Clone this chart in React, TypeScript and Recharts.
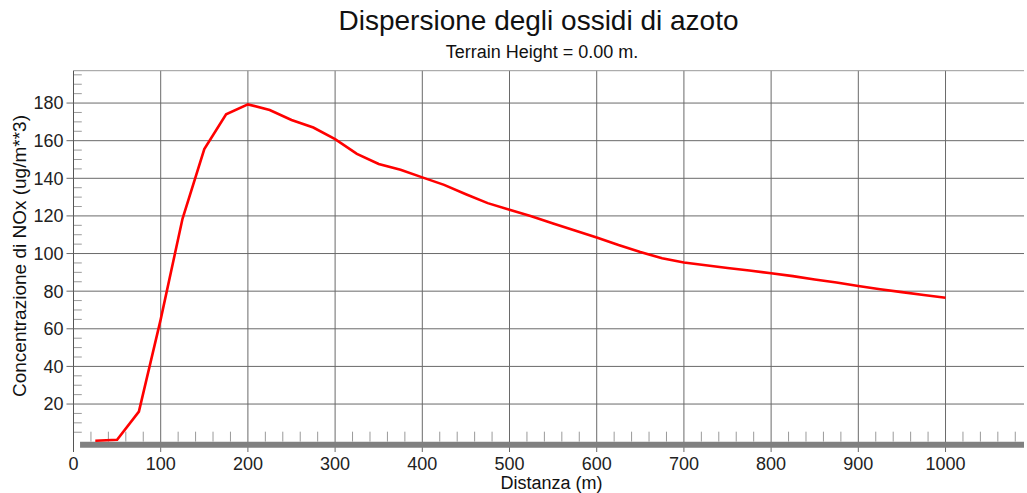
import React from 'react';
import {
  LineChart,
  Line,
  XAxis,
  YAxis,
  CartesianGrid,
  ReferenceLine,
  ReferenceArea,
} from 'recharts';

const distances = [
  25, 50, 75, 100, 125, 150, 175, 200, 225, 250, 275, 300, 325, 350, 375, 400, 425, 450, 475, 500,
  525, 550, 575, 600, 625, 650, 675, 700, 725, 750, 775, 800, 825, 850, 875, 900, 925, 950, 975, 1000,
];
const noxValues = [
  0.5, 1, 16, 65, 118.5, 155.5, 174, 179.3, 176.3, 171, 167, 160.8, 153, 147.6, 144.5, 140.5, 136.5, 131.5, 126.8, 123.3,
  119.8, 116, 112.2, 108.5, 104.5, 100.8, 97.5, 95.2, 93.8, 92.3, 91, 89.5, 88, 86.2, 84.6, 82.7, 81, 79.5, 78, 76.5,
];
const xTicks = [0, 100, 200, 300, 400, 500, 600, 700, 800, 900, 1000];
const yTicks = [20, 40, 60, 80, 100, 120, 140, 160, 180];

const X_MAX = 1090;
const Y_MIN = -5.5;
const Y_MAX = 197.2;

// minor tick marks (every 20 m on x, every 5 on y)
const xMinor: number[] = [];
for (let v = 20; v < X_MAX; v += 20) if (v % 100 !== 0) xMinor.push(v);
const yMinor: number[] = [];
for (let v = 5; v < Y_MAX; v += 5) if (v % 20 !== 0) yMinor.push(v);

const data = distances.map((d, i) => ({ d, nox: noxValues[i] }));

const font = '"Liberation Sans", Arial, sans-serif';

export default function App() {
  return (
    <div style={{ position: 'absolute', left: 0, top: 0, width: 1027, height: 493, background: '#fff', fontFamily: font }}>
      <div style={{ position: 'absolute', left: 0, width: 1077, top: 5, textAlign: 'center', fontSize: 28, color: '#111' }}>
        Dispersione degli ossidi di azoto
      </div>
      <div style={{ position: 'absolute', left: 0, width: 1084, top: 42, textAlign: 'center', fontSize: 18, color: '#111' }}>
        Terrain Height = 0.00 m.
      </div>
      <div style={{ position: 'absolute', left: 0, width: 1103, top: 474, lineHeight: '19px', textAlign: 'center', fontSize: 18, color: '#111' }}>
        Distanza (m)
      </div>
      <div
        style={{
          position: 'absolute',
          left: 20,
          top: 256,
          transform: 'translate(-50%, -50%) rotate(-90deg)',
          whiteSpace: 'nowrap',
          fontSize: 19,
          color: '#111',
        }}
      >
        Concentrazione di NOx (ug/m**3)
      </div>
      <LineChart
        width={1027}
        height={493}
        data={data}
        margin={{ top: 70.7, right: 3, left: 0, bottom: 0 }}
        style={{ position: 'absolute', left: 0, top: 0 }}
      >
        <CartesianGrid stroke="#6a6a6a" horizontalValues={yTicks} verticalValues={xTicks.slice(1)} />
        <XAxis
          type="number"
          dataKey="d"
          domain={[0, X_MAX]}
          ticks={xTicks}
          height={41}
          tickSize={0}
          tickMargin={5}
          axisLine={false}
          tick={{ fill: '#222', fontSize: 18, fontFamily: font }}
          interval={0}
        />
        <YAxis
          type="number"
          domain={[Y_MIN, Y_MAX]}
          ticks={yTicks}
          width={73.5}
          tickSize={7}
          tickMargin={3}
          interval={0}
          axisLine={{ stroke: '#555' }}
          tickLine={{ stroke: '#6a6a6a' }}
          tick={{ fill: '#222', fontSize: 18, fontFamily: font }}
        />
        <ReferenceLine y={Y_MAX} stroke="#999" ifOverflow="visible" />
        <ReferenceArea x1={7.5} x2={X_MAX} y1={-3.2} y2={0} fill="#808080" fillOpacity={1} stroke="none" ifOverflow="visible" />
        {xMinor.map((v) => (
          <ReferenceLine
            key={'xm' + v}
            segment={[{ x: v, y: 0 }, { x: v, y: 5.3 }]}
            stroke="#9a9a9a"
            ifOverflow="visible"
          />
        ))}
        {yMinor.map((v) => (
          <ReferenceLine
            key={'ym' + v}
            segment={[{ x: 0, y: v }, { x: 9.5, y: v }]}
            stroke="#9a9a9a"
            ifOverflow="visible"
          />
        ))}
        <Line
          type="linear"
          dataKey="nox"
          stroke="#ff0000"
          strokeWidth={2.6}
          dot={false}
          isAnimationActive={false}
        />
      </LineChart>
    </div>
  );
}
